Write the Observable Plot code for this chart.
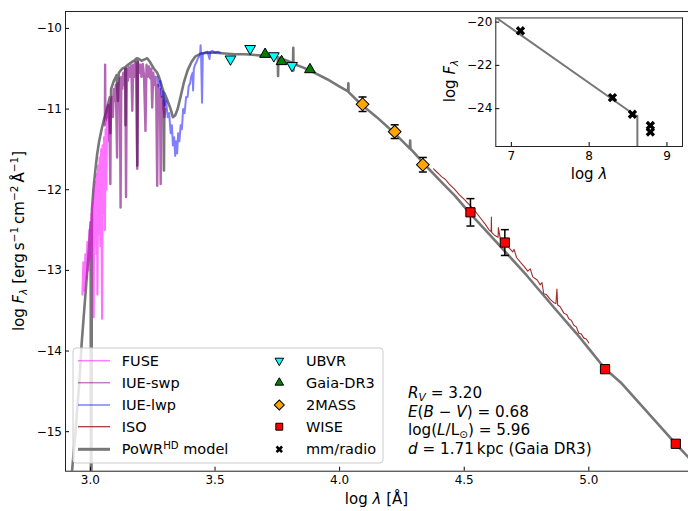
<!DOCTYPE html>
<html><head><meta charset="utf-8">
<script src="https://cdn.jsdelivr.net/npm/d3@7"></script>
<script src="https://cdn.jsdelivr.net/npm/@observablehq/plot@0.6"></script>
<style>
body{margin:0;background:#fff;}
#wrap{position:relative;width:688px;height:511px;font-family:"DejaVu Sans",sans-serif;}
#wrap > svg{position:absolute;overflow:visible;}
</style></head><body><div id="wrap"></div>
<script>
// ---------------- DATA ----------------
// PoWR model SED (log lambda [A], log F_lambda)
const modelLam = [2.900,2.926,2.940,2.955,2.965,2.975,2.985,2.995,3.001,3.002,3.004,3.006,3.012,3.020,3.027,3.035,3.045,3.055,3.062,3.070,3.078,3.080,3.083,3.094,3.105,3.110,3.114,3.127,3.140,3.141,3.143,3.160,3.175,3.186,3.188,3.190,3.205,3.220,3.228,3.240,3.255,3.268,3.275,3.285,3.293,3.295,3.297,3.310,3.322,3.331,3.340,3.350,3.360,3.375,3.390,3.405,3.420,3.445,3.470,3.500,3.540,3.580,3.620,3.660,3.700,3.740,3.752,3.753,3.754,3.790,3.813,3.814,3.815,3.816,3.850,3.900,3.950,4.000,4.034,4.035,4.036,4.086,4.149,4.214,4.282,4.283,4.284,4.342,4.404,4.464,4.525,4.600,4.665,4.750,4.860,4.950,5.000,5.065,5.128,5.349,5.400];
const modelF   = [-15.70,-15.50,-15.00,-14.40,-13.90,-13.50,-13.10,-12.70,-12.40,-15.70,-15.70,-12.25,-12.00,-11.75,-11.56,-11.40,-11.25,-11.12,-11.05,-10.95,-10.85,-11.30,-10.75,-10.65,-10.58,-10.90,-10.55,-10.50,-10.48,-11.20,-10.47,-10.43,-10.40,-10.37,-11.70,-10.37,-10.40,-10.38,-10.37,-10.42,-10.50,-10.55,-10.60,-10.70,-10.78,-11.76,-10.80,-10.90,-11.00,-11.10,-11.08,-11.00,-10.87,-10.67,-10.52,-10.42,-10.35,-10.31,-10.30,-10.30,-10.31,-10.32,-10.32,-10.33,-10.34,-10.35,-10.36,-10.59,-10.36,-10.40,-10.43,-10.24,-10.52,-10.44,-10.48,-10.55,-10.63,-10.72,-10.78,-10.68,-10.79,-10.94,-11.10,-11.28,-11.49,-11.39,-11.49,-11.69,-11.89,-12.08,-12.30,-12.55,-12.77,-13.06,-13.46,-13.78,-13.97,-14.22,-14.39,-15.15,-15.32];

// FUSE spectrum
const fuseLam = [2.968,2.972,2.976,2.980,2.984,2.988,2.992,2.996,3.000,3.004,3.008,3.011,3.013,3.015,3.018,3.021,3.024,3.027,3.028,3.031,3.034,3.037,3.040,3.043,3.046,3.047,3.049,3.052,3.055,3.058,3.061,3.064,3.067,3.070,3.072];
const fuseF   = [-13.30,-12.90,-13.25,-12.80,-13.10,-12.65,-13.00,-12.50,-12.85,-12.30,-12.70,-12.15,-13.58,-12.00,-12.60,-11.90,-12.80,-11.80,-13.30,-11.70,-12.55,-11.60,-12.70,-11.50,-13.10,-13.60,-11.45,-12.30,-11.35,-12.50,-11.25,-12.00,-11.10,-11.40,-11.00];

// IUE short-wavelength (SWP) spectrum
const swpLam = [3.058,3.059,3.060,3.064,3.068,3.072,3.076,3.080,3.082,3.086,3.090,3.094,3.098,3.102,3.107,3.110,3.114,3.118,3.121,3.124,3.128,3.132,3.136,3.140,3.143,3.146,3.150,3.155,3.160,3.164,3.168,3.172,3.176,3.180,3.184,3.188,3.191,3.196,3.200,3.205,3.210,3.215,3.221,3.225,3.230,3.235,3.240,3.244,3.248,3.252,3.256,3.260,3.264,3.268,3.271,3.275,3.279,3.282,3.285,3.289,3.293,3.297,3.300];
const swpF   = [-11.20,-10.45,-11.15,-11.10,-11.00,-10.95,-11.20,-11.93,-10.90,-10.85,-11.10,-10.75,-10.90,-10.70,-11.60,-10.68,-10.85,-10.62,-12.22,-10.60,-10.75,-10.55,-10.70,-10.50,-12.09,-10.50,-10.65,-10.48,-10.60,-10.46,-11.02,-10.45,-10.60,-10.42,-10.55,-11.74,-10.42,-10.55,-10.45,-10.60,-10.44,-10.58,-11.27,-10.45,-10.60,-10.47,-10.62,-10.50,-10.98,-10.55,-10.70,-10.60,-10.80,-11.95,-10.70,-10.85,-10.75,-11.93,-10.85,-11.00,-10.90,-11.10,-11.00];

// IUE long-wavelength (LWP) spectrum
const lwpLam = [3.268,3.274,3.280,3.286,3.292,3.298,3.304,3.310,3.316,3.322,3.327,3.331,3.336,3.340,3.344,3.348,3.352,3.357,3.362,3.367,3.372,3.378,3.384,3.390,3.394,3.400,3.404,3.410,3.412,3.415,3.420,3.425,3.430,3.436,3.440,3.442,3.444,3.448,3.451,3.460,3.470,3.478,3.481,3.490,3.500,3.510,3.520];
const lwpF   = [-10.60,-10.72,-10.65,-10.85,-10.78,-10.95,-10.90,-11.10,-11.05,-11.30,-11.20,-11.45,-11.35,-11.58,-11.40,-11.55,-11.30,-11.40,-11.20,-11.25,-11.00,-11.05,-10.85,-10.85,-10.72,-10.68,-10.60,-10.55,-10.77,-10.50,-10.45,-10.42,-10.38,-10.35,-10.33,-10.21,-10.32,-10.92,-10.31,-10.30,-10.29,-10.38,-10.29,-10.28,-10.30,-10.29,-10.30];

// ISO infrared spectrum
const isoLam = [4.377,4.390,4.400,4.410,4.424,4.440,4.460,4.480,4.500,4.525,4.545,4.565,4.585,4.600,4.608,4.609,4.610,4.620,4.630,4.636,4.637,4.645,4.665,4.680,4.695,4.700,4.710,4.726,4.740,4.755,4.765,4.775,4.793,4.805,4.812,4.819,4.830,4.845,4.860,4.868,4.872,4.875,4.885,4.900,4.912,4.920,4.930,4.940,4.950,4.960,4.970,4.980,4.990,5.000];
const isoF   = [-11.74,-11.78,-11.81,-11.84,-11.87,-11.93,-11.99,-12.06,-12.12,-12.20,-12.27,-12.35,-12.43,-12.50,-12.52,-12.34,-12.53,-12.56,-12.58,-12.59,-12.47,-12.61,-12.65,-12.72,-12.77,-12.74,-12.84,-12.90,-12.95,-13.01,-12.98,-13.08,-13.12,-13.18,-13.15,-13.29,-13.30,-13.36,-13.40,-13.41,-13.23,-13.43,-13.45,-13.53,-13.55,-13.60,-13.62,-13.68,-13.70,-13.78,-13.79,-13.84,-13.85,-13.90];

// Photometry
const ubvrLam = [3.562,3.641,3.736,3.809];
const ubvrF   = [-10.38,-10.25,-10.34,-10.46];
const gaiaLam = [3.701,3.767,3.881];
const gaiaF   = [-10.32,-10.41,-10.51];
const tmassLam = [4.092,4.221,4.334];
const tmassF   = [-10.94,-11.28,-11.69];
const tmassErr = [0.09,0.085,0.09];
const wiseLam = [4.525,4.663,5.065,5.349];
const wiseF   = [-12.28,-12.655,-14.225,-15.15];
const wiseErr = [0.17,0.16,0,0];

// mm / radio (inset)
const radioLam = [7.117,8.300,8.556,8.787,8.787];
const radioF   = [-20.40,-23.49,-24.26,-24.78,-25.08];
const insetModelLam = [6.70,8.600,8.620,8.620];
const insetModelF   = [-19.53,-24.33,-24.33,-27.00];

// Ticks
const xTicks = [3.0,3.5,4.0,4.5,5.0];
const yTicks = [-15,-14,-13,-12,-11,-10];
const insetXTicks = [7,8,9];
const insetYTicks = [-24,-22,-20];

// legend labels
const specLabels = ["FUSE","IUE-swp","IUE-lwp","ISO"];
const photLabels = ["UBVR","Gaia-DR3","2MASS","WISE","mm/radio"];

// ---------------- STYLE ----------------
const C = {fuse:"#ff00ff", swp:"#800080", lwp:"#0000ff", iso:"#a52a2a", model:"#777777",
  ubvr:"#00ffff", gaia:"#008000", tmass:"#ffa500", wise:"#ff0000"};
const minus = d => (d < 0 ? "\u2212" + Math.abs(d) : String(d));
const capSymbol = {draw(ctx, size){ const r = Math.sqrt(size/Math.PI); ctx.moveTo(-r,0); ctx.lineTo(r,0); }};
const FONT = "DejaVu Sans";

const wrap = document.getElementById("wrap");

const errAll = tmassLam.map((l,i)=>({l, f:tmassF[i], e:tmassErr[i]}))
  .concat(wiseLam.map((l,i)=>({l, f:wiseF[i], e:wiseErr[i]}))).filter(d=>d.e>0);

const main = Plot.plot({
  width: 688, height: 511,
  marginLeft: 65, marginRight: 0, marginTop: 11, marginBottom: 40.3,
  style: {fontFamily: FONT, fontSize: "12px", background: "transparent", color:"#000"},
  x: {domain: [2.9, 5.4]},
  y: {domain: [-15.49, -9.79]},
  marks: [
    Plot.line(modelLam, {x: modelLam, y: modelF, stroke: C.model, strokeWidth: 2.6, clip: true}),
    Plot.line(fuseLam, {x: fuseLam, y: fuseF, stroke: C.fuse, strokeOpacity: 0.55, strokeWidth: 2.2, clip: true}),
    Plot.line(swpLam, {x: swpLam, y: swpF, stroke: C.swp, strokeOpacity: 0.6, strokeWidth: 2.4, clip: true}),
    Plot.line(lwpLam, {x: lwpLam, y: lwpF, stroke: C.lwp, strokeOpacity: 0.5, strokeWidth: 2, clip: true}),
    Plot.line(isoLam, {x: isoLam, y: isoF, stroke: C.iso, strokeWidth: 1.1, clip: true}),
    Plot.ruleX(errAll, {x: "l", y1: d=>d.f-d.e, y2: d=>d.f+d.e, stroke: "#000", strokeWidth: 1.5}),
    Plot.dot(errAll, {x: "l", y: d=>d.f-d.e, symbol: capSymbol, r: 4, stroke: "#000", strokeWidth: 1.5}),
    Plot.dot(errAll, {x: "l", y: d=>d.f+d.e, symbol: capSymbol, r: 4, stroke: "#000", strokeWidth: 1.5}),
    Plot.dot(ubvrLam, {x: ubvrLam, y: ubvrF, symbol: "triangle", rotate: 180, r: 4, fill: C.ubvr, stroke: "#000", strokeWidth: 1}),
    Plot.dot(gaiaLam, {x: gaiaLam, y: gaiaF, symbol: "triangle", r: 4, fill: C.gaia, stroke: "#000", strokeWidth: 1}),
    Plot.dot(tmassLam, {x: tmassLam, y: tmassF, symbol: "square", rotate: 45, r: 5.1, fill: C.tmass, stroke: "#000", strokeWidth: 1}),
    Plot.dot(wiseLam, {x: wiseLam, y: wiseF, symbol: "square", r: 5.2, fill: C.wise, stroke: "#000", strokeWidth: 1}),
    Plot.axisX(xTicks, {tickSize: 0, tickPadding: 4.5, tickFormat: d=>d.toFixed(1), label: null}),
    Plot.axisX(xTicks, {tickSize: -4, tickFormat: ()=>"", label: null}),
    Plot.axisY(yTicks, {tickSize: 0, tickPadding: 3.5, tickFormat: minus, label: null}),
    Plot.axisY(yTicks, {tickSize: -4, tickFormat: ()=>"", label: null}),
    Plot.frame({stroke: "#222", strokeWidth: 1})
  ]
});
main.style.left = "0px"; main.style.top = "0px";
wrap.appendChild(main);

const inset = Plot.plot({
  width: 248, height: 190,
  marginLeft: 55.3, marginRight: 6, marginTop: 17.3, marginBottom: 44,
  style: {fontFamily: FONT, fontSize: "12px", background: "transparent", color:"#000"},
  x: {domain: [6.8, 9.2]},
  y: {domain: [-25.75, -19.8]},
  marks: [
    Plot.rect([0], {x1: 6.8, x2: 9.2, y1: -25.75, y2: -19.8, fill: "#fff"}),
    Plot.line(insetModelLam, {x: insetModelLam, y: insetModelF, stroke: C.model, strokeWidth: 2, clip: true}),
    Plot.dot(radioLam, {x: radioLam, y: radioF, symbol: "cross", rotate: 45, r: 4.2, fill: "#000"}),
    Plot.axisX(insetXTicks, {tickSize: 0, tickPadding: 5, label: null}),
    Plot.axisX(insetXTicks, {tickSize: -4, tickFormat: ()=>"", label: null}),
    Plot.axisY(insetYTicks, {tickSize: 0, tickPadding: 3.5, tickFormat: minus, label: null}),
    Plot.axisY(insetYTicks, {tickSize: -4, tickFormat: ()=>"", label: null}),
    Plot.frame({stroke: "#222", strokeWidth: 1}),
    Plot.ruleY([-19.8], {stroke: "#888", strokeWidth: 1.5})
  ]
});
inset.style.left = "440px"; inset.style.top = "0px";
wrap.appendChild(inset);

// ------------- rich text helpers -------------
function richText(parent, x, y, segs, size, opts={}) {
  const t = parent.append("text").attr("x", x).attr("y", y)
    .attr("font-family", FONT).attr("font-size", size).attr("fill", "#000")
    .attr("text-anchor", opts.anchor || "start");
  if (opts.transform) t.attr("transform", opts.transform);
  let shift = 0;
  for (const s of segs) {
    const sp = t.append("tspan").text(s.t);
    if (s.it) sp.attr("font-style", "italic");
    let target = 0;
    if (s.sub) target = size*0.18;
    if (s.sup) target = -size*0.38;
    if (s.sub || s.sup) sp.attr("font-size", size*0.7);
    if (target !== shift) { sp.attr("dy", target - shift); shift = target; }
  }
  return t;
}

const svg = d3.select(main);
// axis labels
richText(svg, 376.5, 504, [{t:"log "},{t:"\u03bb",it:1},{t:" [\u00c5]"}], 15, {anchor:"middle"});
richText(svg, 0, 0, [{t:"log "},{t:"F",it:1},{t:"\u03bb",it:1,sub:1},{t:" [erg\u2009s"},{t:"\u22121",sup:1},{t:"\u2009cm"},{t:"\u22122",sup:1},{t:"\u2009\u00c5"},{t:"\u22121",sup:1},{t:"]"}], 15,
  {anchor:"middle", transform:"translate(24,241) rotate(-90)"});

// legend
const lg = svg.append("g");
lg.append("rect").attr("x",73).attr("y",348).attr("width",310).attr("height",115).attr("rx",3)
  .attr("fill","#fff").attr("fill-opacity",0.8).attr("stroke","#ccc").attr("stroke-width",1);
const rows = [360.7,382.7,405,426.7,449.3];
const specStyles = [[C.fuse,0.5,1.5],[C.swp,0.5,1.5],[C.lwp,0.5,1.5],[C.iso,1,1.2],[C.model,1,3]];
specStyles.forEach((s,i)=>{
  lg.append("line").attr("x1",78).attr("x2",110).attr("y1",rows[i]).attr("y2",rows[i])
    .attr("stroke",s[0]).attr("stroke-opacity",s[1]).attr("stroke-width",s[2]);
});
specLabels.forEach((l,i)=>richText(lg,121.7,rows[i]+5,[{t:l}],14.5));
richText(lg,121.7,rows[4]+5,[{t:"PoWR"},{t:"HD",sup:1},{t:" model"}],14.5);
const mk = [
  {sym:d3.symbolTriangle, rot:180, fill:C.ubvr, size:32},
  {sym:d3.symbolTriangle, rot:0, fill:C.gaia, size:32},
  {sym:d3.symbolSquare, rot:45, fill:C.tmass, size:50},
  {sym:d3.symbolSquare, rot:0, fill:C.wise, size:48},
  {sym:d3.symbolCross, rot:45, fill:"#000", size:34}
];
mk.forEach((m,i)=>{
  lg.append("path").attr("d", d3.symbol(m.sym, m.size)())
    .attr("transform",`translate(279.3,${rows[i]}) rotate(${m.rot})`)
    .attr("fill",m.fill).attr("stroke","#000").attr("stroke-width", m.fill==="#000"?0:1);
});
photLabels.forEach((l,i)=>richText(lg,306,rows[i]+5,[{t:l}],14.5));

// annotation
const ann = [
  [{t:"R",it:1},{t:"V",it:1,sub:1},{t:" = 3.20"}],
  [{t:"E",it:1},{t:"("},{t:"B",it:1},{t:" \u2212 "},{t:"V",it:1},{t:") = 0.68"}],
  [{t:"log("},{t:"L",it:1},{t:"/L"},{t:"\u2299",sub:1},{t:") = 5.96"}],
  [{t:"d",it:1},{t:" = 1.71\u2009kpc (Gaia DR3)"}]
];
ann.forEach((segs,i)=>richText(svg, 408, 398 + i*18.7, segs, 15.2));

// inset labels
const isvg = d3.select(inset);
richText(isvg, 149, 179, [{t:"log "},{t:"\u03bb",it:1}], 15, {anchor:"middle"});
richText(isvg, 0, 0, [{t:"log "},{t:"F",it:1},{t:"\u03bb",it:1,sub:1}], 15, {anchor:"middle", transform:"translate(15,81) rotate(-90)"});
</script></body></html>
